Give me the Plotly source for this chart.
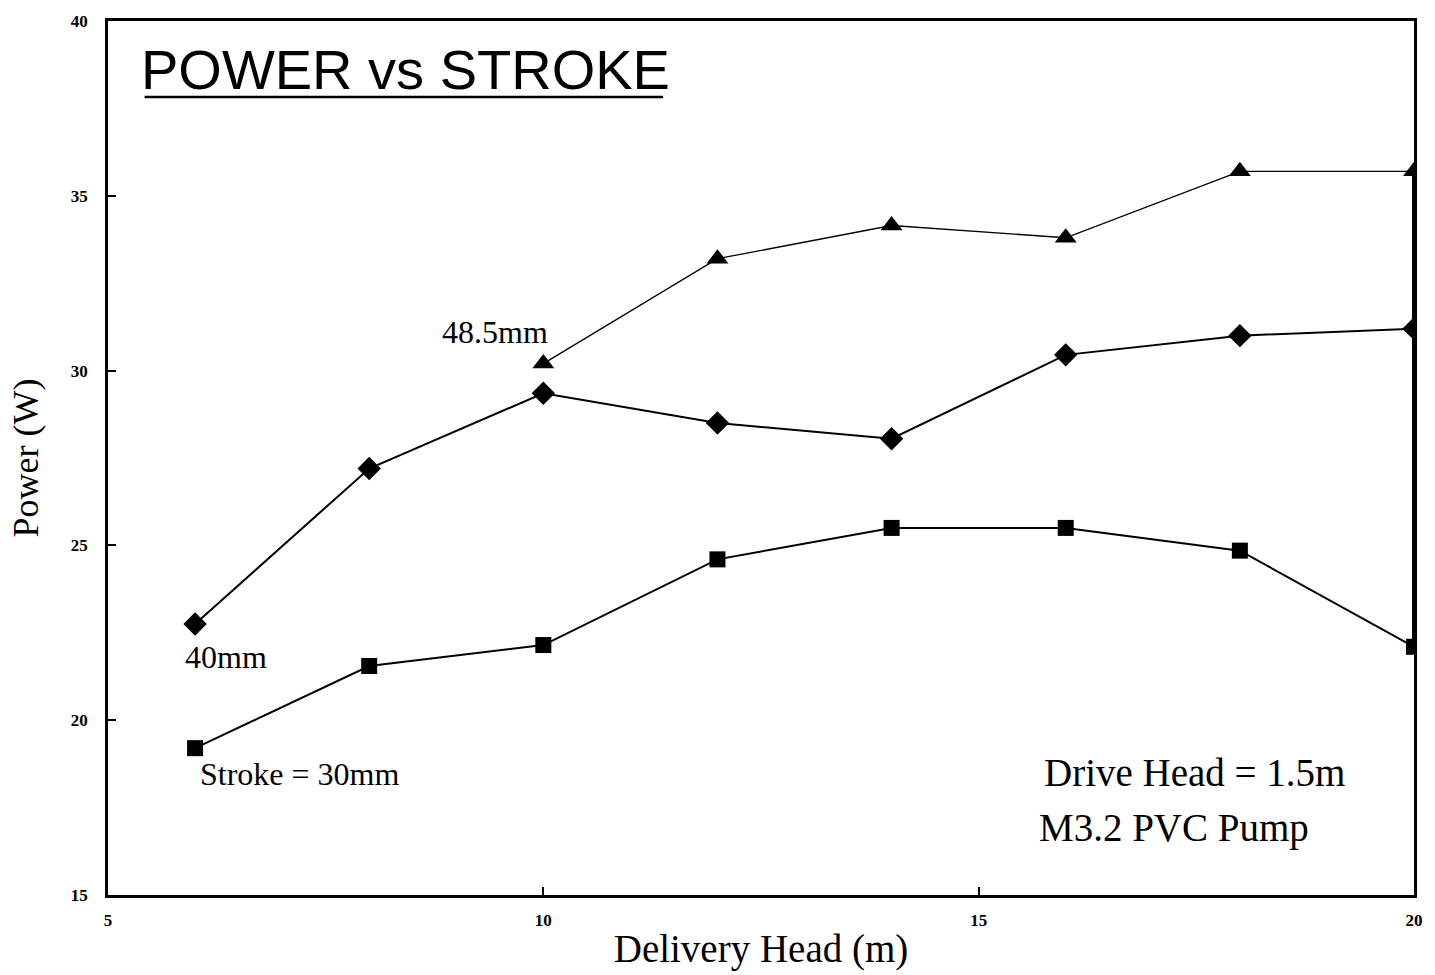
import plotly.graph_objects as go

# Data
delivery_head = [6, 8, 10, 12, 14, 16, 18, 20]
stroke_30 = [19.2, 21.55, 22.15, 24.6, 25.5, 25.5, 24.85, 22.1]
stroke_40 = [22.75, 27.2, 29.35, 28.5, 28.05, 30.45, 31.0, 31.2]
head_485 = [10, 12, 14, 16, 18, 20]
stroke_485 = [30.2, 33.2, 34.15, 33.8, 35.7, 35.7]

x_ticks = [5, 10, 15, 20]
y_ticks = [15, 20, 25, 30, 35, 40]

serif = "Liberation Serif"

fig = go.Figure()

fig.add_trace(go.Scatter(x=head_485, y=stroke_485, mode="lines+markers",
                         line=dict(color="black", width=1.3),
                         marker=dict(symbol="triangle-up", size=19, color="black"),
                         name="48.5mm"))
fig.add_trace(go.Scatter(x=delivery_head, y=stroke_40, mode="lines+markers",
                         line=dict(color="black", width=2),
                         marker=dict(symbol="diamond", size=18, color="black"),
                         name="40mm"))
fig.add_trace(go.Scatter(x=delivery_head, y=stroke_30, mode="lines+markers",
                         line=dict(color="black", width=2),
                         marker=dict(symbol="square", size=16, color="black"),
                         name="30mm"))
# thick right-edge segment seen in the scan
fig.add_trace(go.Scatter(x=[delivery_head[-1], delivery_head[-1]],
                         y=[stroke_30[-1], stroke_485[-1]], mode="lines",
                         line=dict(color="black", width=4), hoverinfo="skip"))

fig.update_layout(
    width=1435, height=975,
    margin=dict(l=108, r=17, t=16, b=75),
    paper_bgcolor="white", plot_bgcolor="white",
    showlegend=False,
    font=dict(family=serif, color="black"),
)

fig.update_xaxes(range=[5, 20], tickvals=x_ticks, ticktext=[str(v) for v in x_ticks],
                 ticks="inside", ticklen=8, tickwidth=2, tickcolor="black",
                 showline=True, linecolor="black", linewidth=2.5, mirror=True,
                 showgrid=False, zeroline=False, ticklabelstandoff=8,
                 tickfont=dict(family=serif, size=17, weight="bold"),
                 title=dict(text="Delivery Head (m)", font=dict(family=serif, size=39), standoff=6))
fig.update_yaxes(range=[15, 40], tickvals=y_ticks, ticktext=[str(v) for v in y_ticks],
                 ticks="inside", ticklen=8, tickwidth=2, tickcolor="black",
                 showline=True, linecolor="black", linewidth=2.5, mirror=True,
                 showgrid=False, zeroline=False, ticklabelstandoff=14,
                 tickfont=dict(family=serif, size=17, weight="bold"),
                 title=dict(text="Power (W)", font=dict(family=serif, size=36), standoff=22))

ann_font = dict(family=serif, size=32, color="black")
fig.add_annotation(x=9.45, y=31.1, text="48.5mm", showarrow=False, font=ann_font)
fig.add_annotation(x=6.35, y=21.8, text="40mm", showarrow=False, font=ann_font)
fig.add_annotation(x=7.2, y=18.45, text="Stroke = 30mm", showarrow=False, font=ann_font)
fig.add_annotation(x=15.73, y=18.5, text="Drive Head = 1.5m", showarrow=False, xanchor="left",
                   font=dict(family=serif, size=39, color="black"))
fig.add_annotation(x=15.67, y=16.93, text="M3.2 PVC Pump", showarrow=False, xanchor="left",
                   font=dict(family=serif, size=39, color="black"))

fig.add_annotation(xref="paper", yref="paper", x=0.024, y=0.945, text="POWER vs STROKE",
                   showarrow=False, xanchor="left", yanchor="middle",
                   font=dict(family="Liberation Sans", size=56, color="black"))
fig.add_shape(type="line", xref="paper", yref="paper", x0=0.028, x1=0.425, y0=0.913, y1=0.913,
              line=dict(color="black", width=2.5))

fig.write_html("out.html", config={"displayModeBar": False},
               post_script="document.body.style.margin='0';document.body.style.overflow='hidden';")
